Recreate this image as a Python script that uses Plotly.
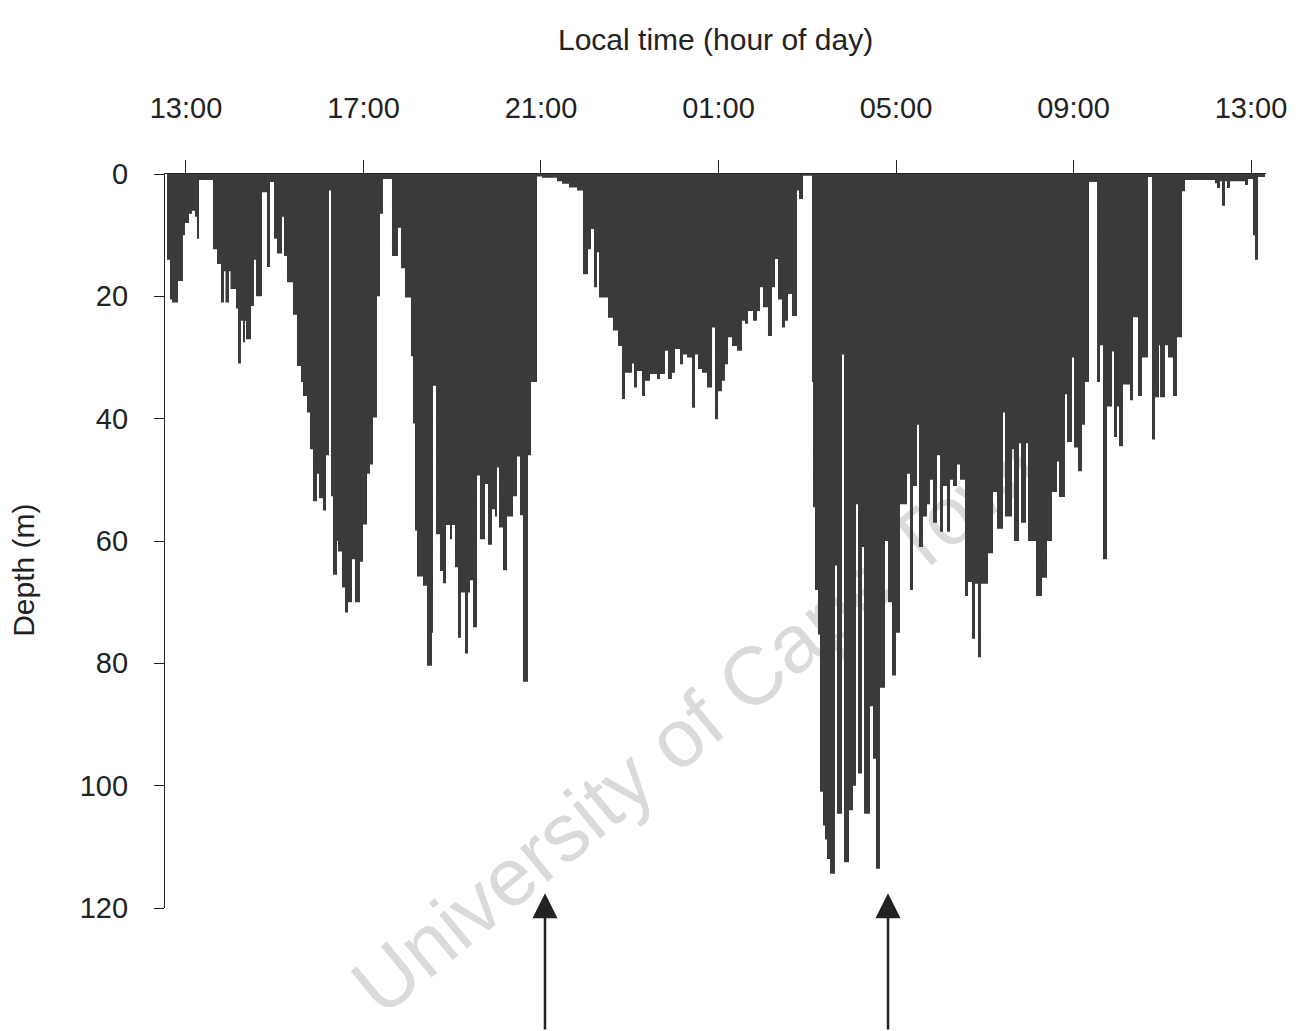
import plotly.graph_objects as go

# Axis ticks (hours counted from midnight of the first day, so 25 = 01:00 next day)
hour_ticks = [13, 17, 21, 25, 29, 33, 37]
hour_labels = ["13:00", "17:00", "21:00", "01:00", "05:00", "09:00", "13:00"]
depth_ticks = [0, 20, 40, 60, 80, 100, 120]

# Dive record: start of each step (h) and the depth held until the next step (m)
elapsed_h = [
    12.572, 12.639, 12.685, 12.820, 12.932, 12.977, 13.068, 13.135, 13.203, 13.248,
    13.293,
    13.608, 13.699, 13.789, 13.856, 13.890, 13.969, 14.003, 14.127, 14.172, 14.239,
    14.285, 14.330, 14.352, 14.465, 14.532, 14.577, 14.713, 14.825, 14.893, 14.983,
    15.051, 15.163, 15.208, 15.276, 15.411, 15.501, 15.592, 15.637, 15.727, 15.794,
    15.862, 15.952, 15.997, 16.087, 16.155, 16.223, 16.268, 16.313, 16.403, 16.425,
    16.515, 16.583, 16.651, 16.741, 16.808, 16.921, 16.989, 17.079, 17.146, 17.214,
    17.304, 17.372, 17.439,
    17.642, 17.777, 17.845, 17.935, 18.070, 18.115, 18.161, 18.206, 18.341, 18.431,
    18.544, 18.566, 18.634, 18.724, 18.792, 18.859, 18.949, 18.994, 19.062, 19.130,
    19.197, 19.287, 19.355, 19.400, 19.468, 19.558, 19.625, 19.738, 19.806, 19.896,
    19.963, 20.008, 20.054, 20.144, 20.234, 20.369, 20.459, 20.527, 20.594, 20.707,
    20.775, 20.910,
    21.023, 21.361, 21.473, 21.631, 21.811,
    21.946, 22.059, 22.127, 22.194, 22.262, 22.307, 22.510, 22.623, 22.735, 22.825,
    22.893, 23.051, 23.096, 23.163, 23.276, 23.344, 23.456, 23.614, 23.682, 23.794,
    23.862, 23.952, 24.020, 24.133, 24.200, 24.290, 24.403, 24.470, 24.538, 24.628,
    24.741, 24.854, 24.921, 24.989, 25.079, 25.146, 25.214, 25.304, 25.417, 25.530,
    25.597, 25.665, 25.778, 25.868, 25.935, 26.003, 26.115, 26.206, 26.273, 26.341,
    26.431, 26.499, 26.566, 26.656, 26.769, 26.814, 26.904,
    27.107, 27.130, 27.175, 27.242, 27.287, 27.355, 27.400, 27.445, 27.513, 27.625,
    27.670, 27.783, 27.828, 27.941, 28.031, 28.099, 28.144, 28.234, 28.279, 28.414,
    28.482, 28.549, 28.639, 28.752, 28.820, 28.910, 29.000, 29.090, 29.248, 29.315,
    29.383, 29.473, 29.518, 29.608, 29.699, 29.766, 29.834, 29.924, 29.992, 30.059,
    30.149, 30.217, 30.285, 30.375, 30.442, 30.555, 30.623, 30.713, 30.780, 30.848,
    30.915, 31.073, 31.186, 31.276, 31.411, 31.456, 31.614, 31.659, 31.772, 31.817,
    31.930, 31.975, 32.155, 32.290, 32.403, 32.515, 32.628, 32.673, 32.808, 32.854,
    32.966, 33.011, 33.101, 33.192, 33.259, 33.349,
    33.530, 33.597, 33.665, 33.755, 33.868, 33.913, 33.980, 34.025, 34.115, 34.273,
    34.341, 34.453, 34.543, 34.679, 34.769, 34.837, 34.927, 34.950, 35.062, 35.130,
    35.242, 35.332, 35.445, 35.513,
    36.189, 36.234, 36.302, 36.347, 36.414, 36.459, 36.527, 36.865, 36.932, 37.045,
    37.090, 37.158, 37.316,
]
depth_m = [
    14, 20.5, 21, 17.5, 10, 8, 6.5, 6, 7, 10.6,
    1.0,
    12.3, 14.7, 21, 15.9, 21, 15.9, 18.8, 22, 31, 24,
    27.5, 24, 27, 21.6, 14, 20, 3, 15.2, 1.3, 10.6,
    13, 7, 13.4, 17.7, 23, 31.4, 34, 36.3, 39, 45,
    53.5, 49, 53, 55, 46, 2.7, 52.7, 65.5, 60, 61.7,
    67.6, 71.7, 70, 63, 70, 63.4, 57.3, 49, 47.5, 39.8,
    20, 6.5, 0.8,
    13.4, 8.8, 15.4, 20.2, 29.8, 40.8, 58.3, 65.8, 67.3, 80.4,
    75, 34.6, 58.9, 64.9, 66.9, 57.4, 59.7, 57.4, 64.3, 75.8,
    68.4, 78.4, 68.4, 66.4, 74.1, 49.3, 59.7, 50.7, 60.6, 54.8,
    56, 48, 57.8, 64.8, 56, 52.7, 46.2, 55.8, 83, 46,
    34, 0.4,
    0.6, 1.2, 1.6, 2.2, 2.7,
    16.4, 12.3, 9, 18.5, 12.8, 20.2, 23.5, 25.6, 28.1, 36.8,
    32.5, 31, 34.9, 32.2, 36.3, 33.8, 32.7, 33.5, 32.7, 28.9,
    33.5, 32.5, 28.6, 31.1, 29.5, 30, 38.2, 29.5, 31.9, 32.5,
    34.9, 25.1, 40.1, 35.5, 33.8, 31.1, 26.7, 28.1, 28.9, 24,
    24.5, 22.4, 24, 22.4, 18.5, 21.8, 26.5, 18.5, 13.9, 20.5,
    25.1, 24, 19.6, 23.2, 2.7, 4.1, 0.3,
    34, 54.5, 68, 75.3, 101, 106.5, 108.8, 112, 114.4, 64,
    104.6, 29.5, 112.5, 104, 100, 54, 98, 61, 104.6, 87,
    95.6, 113.6, 84, 60, 70, 82, 75, 54, 49, 68,
    51, 41, 61, 56, 54, 50, 57, 46, 58.5, 51,
    58.5, 50, 51, 47.5, 50, 69, 66.7, 76, 67, 79,
    67, 62, 52, 58, 39, 56, 45, 60, 44, 57,
    44, 60, 69, 66, 60, 52, 47, 52.8, 36, 43.8,
    30, 44.7, 48.6, 41, 34, 1.3,
    34, 28, 63, 38, 29, 43, 38, 44.5, 34.4, 37,
    23.4, 36.3, 30, 0.5, 43.4, 36.5, 28, 36.5, 28, 30,
    36.3, 26.7, 2.8, 1.0,
    1.5, 2.3, 1.2, 5.2, 1.2, 2.3, 1.2, 1.8, 0.8, 10,
    14, 0.5, 0.5,
]

# Times flagged beneath the record (h)
marker_times = [21.09, 28.82]

FILL = "#3a3a3a"
INK = "#222222"
FONT = "Liberation Sans, Arial, sans-serif"

fig = go.Figure()
fig.add_trace(go.Scatter(
    x=elapsed_h, y=depth_m,
    mode="lines",
    line=dict(shape="hv", width=0, color=FILL),
    fill="tozeroy", fillcolor=FILL,
    hoverinfo="skip", showlegend=False,
))

# Faint watermark sitting underneath the record
fig.add_shape(
    type="rect", xref="paper", yref="paper",
    x0=0.405, x1=0.565, y0=0.21, y1=0.33,
    line=dict(width=0), fillcolor="rgba(0,0,0,0)", layer="below",
    label=dict(text="University of Cape Town", textangle=-39.5,
               textposition="middle center",
               font=dict(family=FONT, size=82, color="#dadada")),
)

for t in marker_times:
    fig.add_annotation(
        x=t, y=117.6, xref="x", yref="y", text="",
        showarrow=True, arrowhead=2, arrowsize=2, arrowwidth=2.5,
        arrowcolor=INK, ax=0, ay=140,
    )

fig.add_annotation(
    x=0.5, y=1, xref="paper", yref="paper", yshift=153,
    text="Local time (hour of day)", showarrow=False,
    font=dict(family=FONT, size=30, color=INK),
)
fig.add_annotation(
    x=0, y=0.46, xref="paper", yref="paper", xshift=-160,
    text="Depth (m)", textangle=-90, showarrow=False,
    font=dict(family=FONT, size=30, color=INK),
)

fig.update_xaxes(
    side="top", range=[12.527, 37.338],
    tickmode="array", tickvals=hour_ticks, ticktext=hour_labels,
    ticks="outside", ticklen=13, tickwidth=1, tickcolor=INK,
    ticklabelstandoff=30,
    showline=True, linecolor=INK, linewidth=1.2,
    showgrid=False, zeroline=False,
    tickfont=dict(family=FONT, size=29, color=INK),
)
fig.update_yaxes(
    range=[120, 0],
    tickmode="array", tickvals=depth_ticks,
    ticks="outside", ticklen=10, tickwidth=1, tickcolor=INK,
    ticklabelstandoff=20,
    showline=True, linecolor=INK, linewidth=1.2,
    showgrid=False, zeroline=False,
    tickfont=dict(family=FONT, size=29, color=INK),
)
fig.update_layout(
    width=1313, height=1031,
    margin=dict(l=165, r=47, t=174, b=123),
    paper_bgcolor="white", plot_bgcolor="white",
    showlegend=False,
)

fig.write_html("out.html")
